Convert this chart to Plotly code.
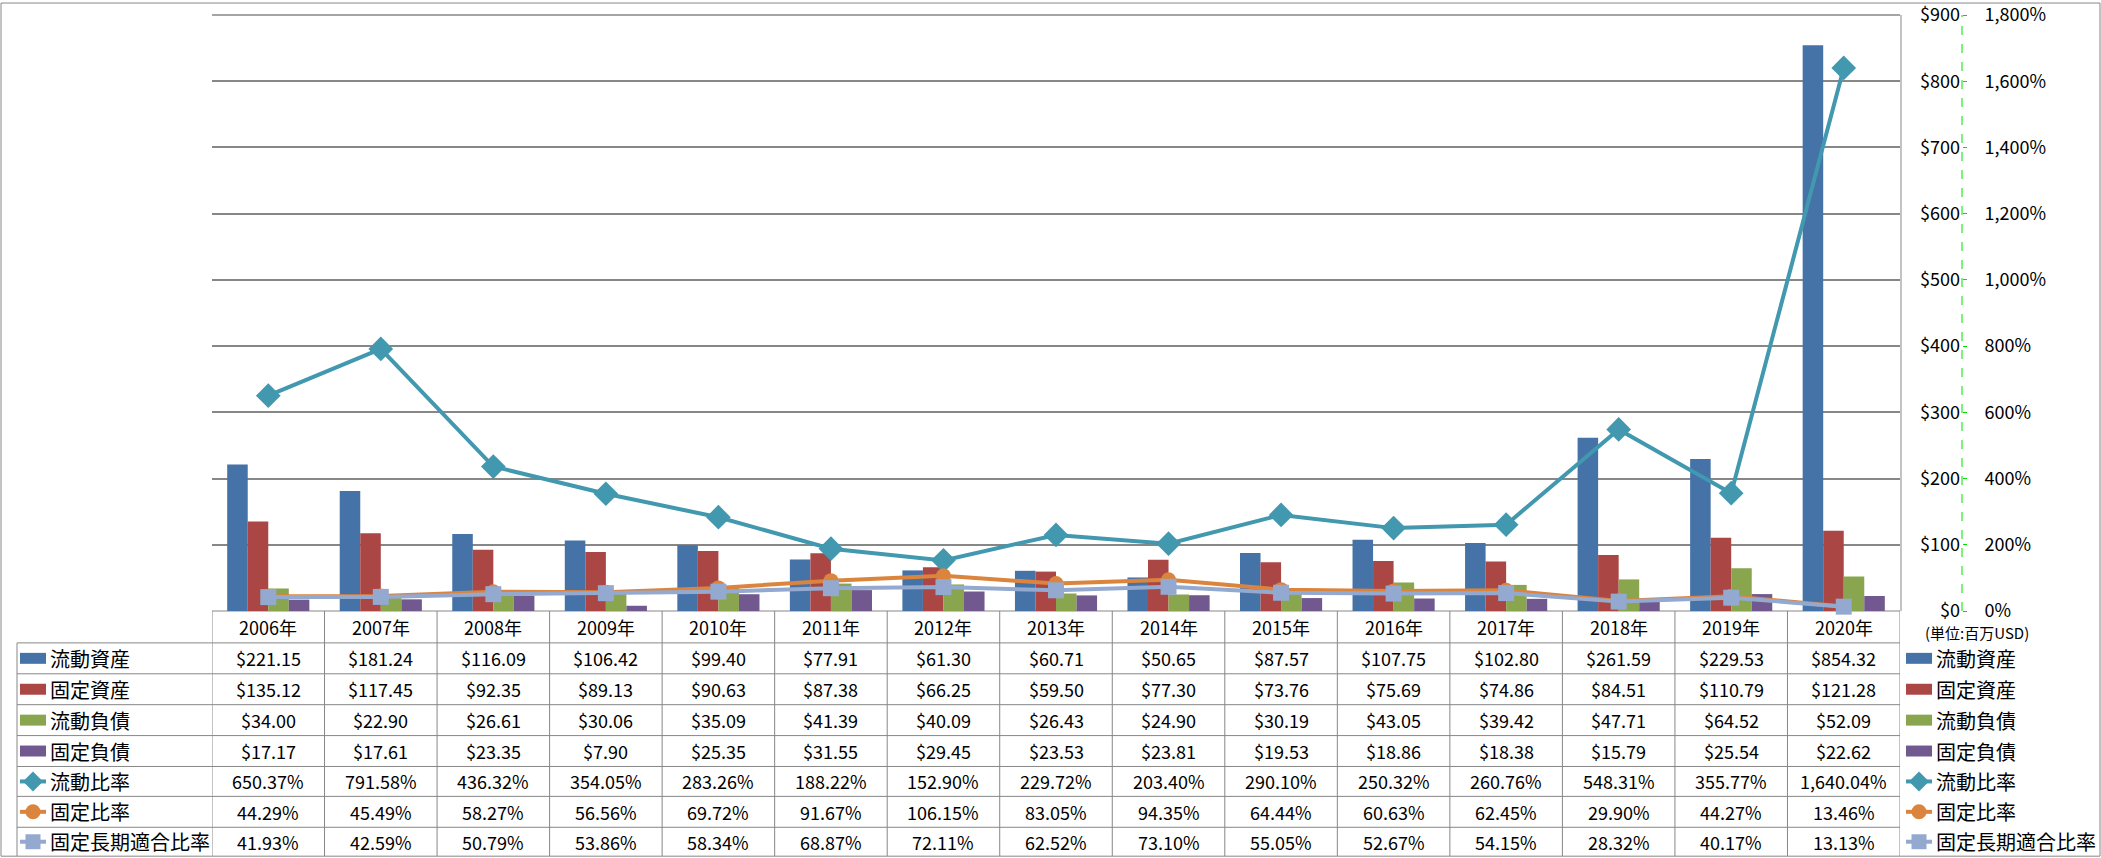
import plotly.graph_objects as go

# ---------------- data ----------------
years = ["2006年", "2007年", "2008年", "2009年", "2010年", "2011年", "2012年", "2013年",
         "2014年", "2015年", "2016年", "2017年", "2018年", "2019年", "2020年"]

current_assets = [221.15, 181.24, 116.09, 106.42, 99.40, 77.91, 61.30, 60.71, 50.65, 87.57,
                  107.75, 102.80, 261.59, 229.53, 854.32]
fixed_assets = [135.12, 117.45, 92.35, 89.13, 90.63, 87.38, 66.25, 59.50, 77.30, 73.76,
                75.69, 74.86, 84.51, 110.79, 121.28]
current_liab = [34.00, 22.90, 26.61, 30.06, 35.09, 41.39, 40.09, 26.43, 24.90, 30.19,
                43.05, 39.42, 47.71, 64.52, 52.09]
fixed_liab = [17.17, 17.61, 23.35, 7.90, 25.35, 31.55, 29.45, 23.53, 23.81, 19.53,
              18.86, 18.38, 15.79, 25.54, 22.62]
current_ratio = [650.37, 791.58, 436.32, 354.05, 283.26, 188.22, 152.90, 229.72, 203.40, 290.10,
                 250.32, 260.76, 548.31, 355.77, 1640.04]
fixed_ratio = [44.29, 45.49, 58.27, 56.56, 69.72, 91.67, 106.15, 83.05, 94.35, 64.44,
               60.63, 62.45, 29.90, 44.27, 13.46]
fixed_lt_ratio = [41.93, 42.59, 50.79, 53.86, 58.34, 68.87, 72.11, 62.52, 73.10, 55.05,
                  52.67, 54.15, 28.32, 40.17, 13.13]

bar_names = ["流動資産", "固定資産", "流動負債", "固定負債"]
line_names = ["流動比率", "固定比率", "固定長期適合比率"]
usd_ticks = [0, 100, 200, 300, 400, 500, 600, 700, 800, 900]
usd_ticktext = ["$0", "$100", "$200", "$300", "$400", "$500", "$600", "$700", "$800", "$900"]
pct_ticks = [0, 200, 400, 600, 800, 1000, 1200, 1400, 1600, 1800]
pct_ticktext = ["0%", "200%", "400%", "600%", "800%", "1,000%", "1,200%", "1,400%", "1,600%",
                "1,800%"]
unit_label = "(単位:百万USD)"

# ---------------- styling / geometry ----------------
W, H = 2101, 858
L, T, BASE = 212, 13, 611          # plot-area left, top, baseline (px)
R_PLOT = 1900                      # plot-area right (px)
AX_X = 1962                        # axis line x (px)
FONT = "Noto Sans CJK JP"
bar_colors = ["#4572A7", "#AA4643", "#89A54E", "#71588F"]
line_colors = ["#4198AF", "#DB843D", "#93A9CF"]
grid_col = "#878787"
paper_w = W - L


def px(x):
    return (x - L) / paper_w


def py(y):
    return (BASE - y) / (BASE - T)


fig = go.Figure()

bar_data = [current_assets, fixed_assets, current_liab, fixed_liab]
for name, vals, col in zip(bar_names, bar_data, bar_colors):
    fig.add_trace(go.Bar(x=years, y=vals, name=name, marker=dict(color=col, line=dict(width=0)),
                         yaxis="y"))

line_data = [current_ratio, fixed_ratio, fixed_lt_ratio]
symbols = ["diamond", "circle", "square"]
msizes = [19, 15, 16]
for name, vals, col, sym, ms in zip(line_names, line_data, line_colors, symbols, msizes):
    fig.add_trace(go.Scatter(x=years, y=vals, name=name, mode="lines+markers", yaxis="y2",
                             line=dict(color=col, width=4),
                             marker=dict(symbol=sym, size=ms, color=col, line=dict(width=0)),
                             cliponaxis=False))

shapes = []
annotations = []

# table geometry
row_bounds = [643, 674, 705, 736, 767, 797, 828, 857]
row_centers = [(row_bounds[i] + row_bounds[i + 1]) / 2 for i in range(7)]
header_center = (BASE + row_bounds[0]) / 2
line_style = dict(color=grid_col, width=1)

# top gridline (range end)
shapes.append(dict(type="line", xref="paper", yref="paper", x0=0, x1=px(R_PLOT),
                   y0=1, y1=1, line=dict(color=grid_col, width=1.5), layer="below"))
# horizontal table lines
for yb in row_bounds[:-1]:
    shapes.append(dict(type="line", xref="paper", yref="paper", x0=px(17), x1=px(R_PLOT),
                       y0=py(yb), y1=py(yb), line=line_style, layer="above"))
shapes.append(dict(type="line", xref="paper", yref="paper", x0=px(L), x1=px(R_PLOT),
                   y0=py(BASE), y1=py(BASE), line=line_style, layer="below"))
# vertical lines at category boundaries
n = len(years)
for k in range(n + 1):
    shapes.append(dict(type="line", xref="x", yref="paper", x0=k - 0.5, x1=k - 0.5,
                       y0=py(BASE), y1=py(857), line=line_style))
shapes.append(dict(type="line", xref="paper", yref="paper", x0=px(17), x1=px(17),
                   y0=py(row_bounds[0]), y1=py(857), line=line_style))
# right plot border
shapes.append(dict(type="line", xref="paper", yref="paper", x0=px(R_PLOT + 1), x1=px(R_PLOT + 1),
                   y0=py(T), y1=py(BASE), line=line_style))
# green dashed axis line
shapes.append(dict(type="line", xref="paper", yref="paper", x0=px(AX_X), x1=px(AX_X),
                   y0=0, y1=1, line=dict(color="#00E000", width=1, dash="dash")))
# outer frame
shapes.append(dict(type="rect", xref="paper", yref="paper", x0=px(1), x1=px(W - 1),
                   y0=py(1), y1=py(H - 1), line=dict(color=grid_col, width=1)))

# header labels
for i, yr in enumerate(years):
    annotations.append(dict(x=i, y=py(header_center), xref="x", yref="paper", text=yr,
                            showarrow=False, xanchor="center", yanchor="middle",
                            font=dict(size=18)))

# table values
all_rows = bar_data + line_data
for r, vals in enumerate(all_rows):
    for i, v in enumerate(vals):
        txt = f"${v:,.2f}" if r < 4 else f"{v:,.2f}%"
        annotations.append(dict(x=i, y=py(row_centers[r]), xref="x", yref="paper", text=txt,
                                showarrow=False, xanchor="center", yanchor="middle",
                                font=dict(size=18)))


def legend_symbol(x0, yc, r):
    if r < 4:
        shapes.append(dict(type="rect", xref="paper", yref="paper", x0=px(x0), x1=px(x0 + 26),
                           y0=py(yc + 5.5), y1=py(yc - 5.5), fillcolor=bar_colors[r],
                           line=dict(width=0)))
    else:
        c = line_colors[r - 4]
        xc = x0 + 13
        shapes.append(dict(type="line", xref="paper", yref="paper", x0=px(x0), x1=px(x0 + 26),
                           y0=py(yc), y1=py(yc), line=dict(color=c, width=4)))
        if r == 4:
            d = 10
            path = (f"M {px(xc - d)} {py(yc)} L {px(xc)} {py(yc - d)} L {px(xc + d)} {py(yc)} "
                    f"L {px(xc)} {py(yc + d)} Z")
            shapes.append(dict(type="path", xref="paper", yref="paper", path=path, fillcolor=c,
                               line=dict(width=0)))
        elif r == 5:
            d = 7.5
            shapes.append(dict(type="circle", xref="paper", yref="paper", x0=px(xc - d),
                               x1=px(xc + d), y0=py(yc + d), y1=py(yc - d), fillcolor=c,
                               line=dict(width=0)))
        else:
            d = 7.5
            shapes.append(dict(type="rect", xref="paper", yref="paper", x0=px(xc - d),
                               x1=px(xc + d), y0=py(yc + d), y1=py(yc - d), fillcolor=c,
                               line=dict(width=0)))


names = bar_names + line_names
for r, nm in enumerate(names):
    yc = row_centers[r]
    # left row labels
    legend_symbol(20, yc, r)
    annotations.append(dict(x=px(48), y=py(yc), xref="paper", yref="paper", text=nm,
                            showarrow=False, xanchor="left", yanchor="middle", font=dict(size=20)))
    # right legend
    legend_symbol(1906, yc, r)
    annotations.append(dict(x=px(1934), y=py(yc), xref="paper", yref="paper", text=nm,
                            showarrow=False, xanchor="left", yanchor="middle", font=dict(size=20)))

annotations.append(dict(x=px(1977), y=py(633), xref="paper", yref="paper", text=unit_label,
                        showarrow=False, xanchor="center", yanchor="middle", font=dict(size=15)))

fig.update_layout(
    width=W, height=H,
    margin=dict(l=L, r=0, t=T, b=H - BASE, pad=0),
    plot_bgcolor="white", paper_bgcolor="white",
    font=dict(family=FONT, size=18, color="black"),
    showlegend=False,
    barmode="group", bargap=0.27, bargroupgap=0,
    xaxis=dict(type="category", range=[-0.5, n - 0.5], domain=[0, px(R_PLOT)],
               showticklabels=False, ticks="", showgrid=False, zeroline=False, showline=False),
    yaxis=dict(range=[0, 900.01], tickmode="array", tickvals=usd_ticks, ticktext=usd_ticktext,
               showgrid=True, gridcolor=grid_col, gridwidth=1.5, zeroline=False, showline=False,
               anchor="free", position=px(AX_X), side="left", ticks="",
               ticklabelstandoff=2, ticklabeloverflow="allow", tickfont=dict(size=18)),
    yaxis2=dict(range=[0, 1800.02], tickmode="array", tickvals=pct_ticks, ticktext=pct_ticktext,
                overlaying="y", anchor="free", position=px(AX_X), side="right",
                ticks="outside", ticklen=4, tickcolor="#00E000", showgrid=False,
                zeroline=False, showline=False, ticklabelstandoff=14,
                ticklabeloverflow="allow", tickfont=dict(size=18)),
    shapes=shapes,
    annotations=annotations,
)

fig.write_html("out.html", config={"displayModeBar": False},
               post_script="document.body.style.margin='0';document.body.style.overflow='hidden';")
